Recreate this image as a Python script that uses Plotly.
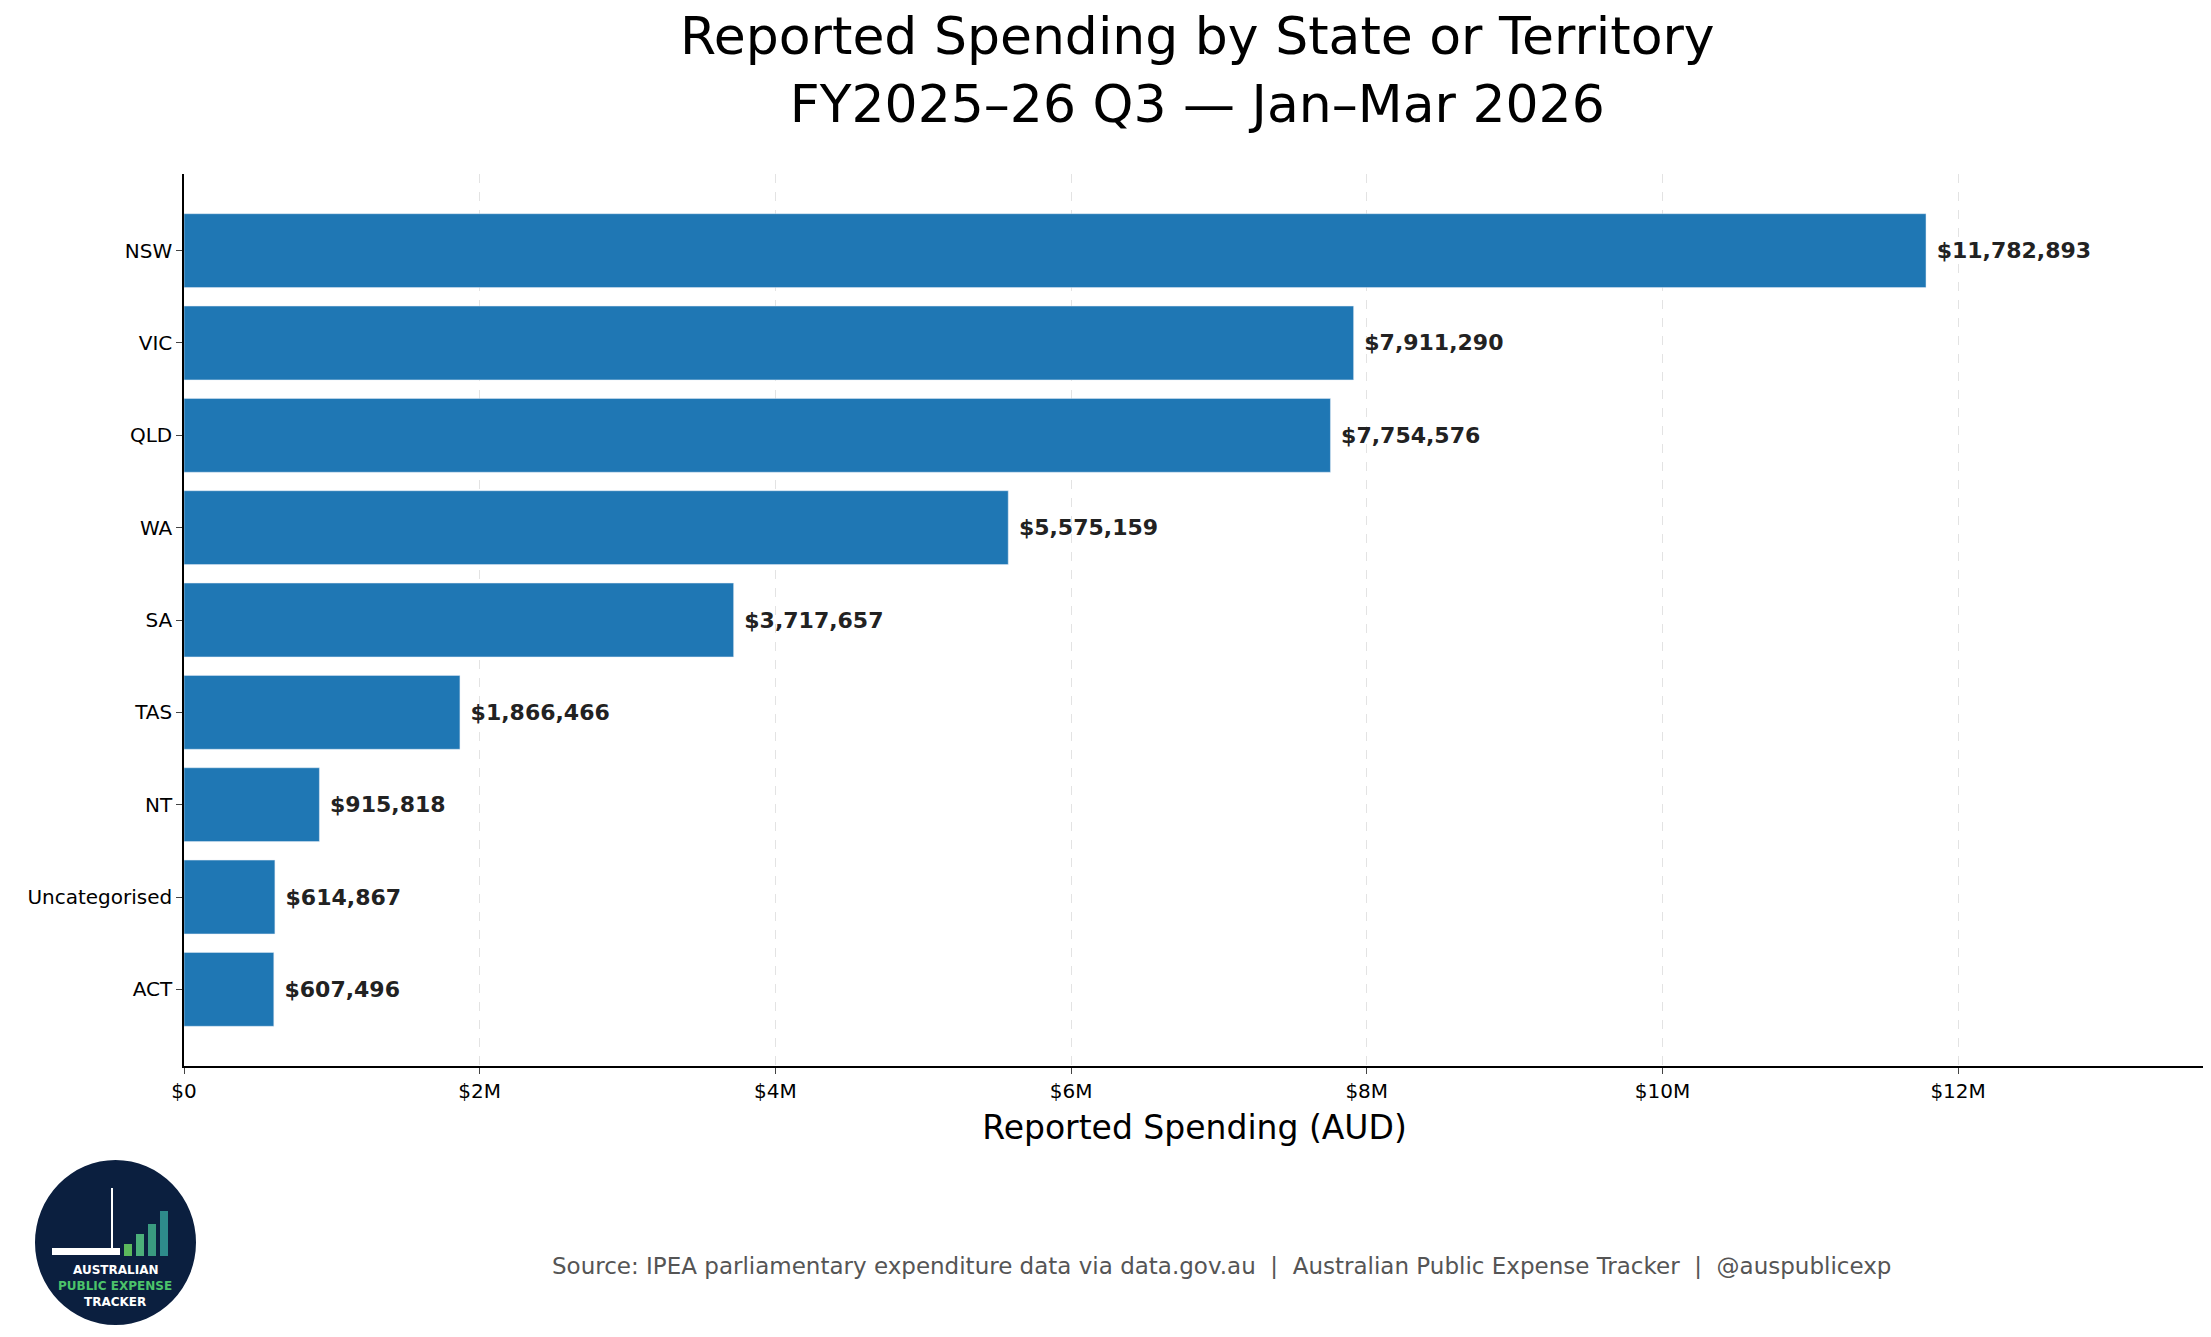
import plotly.graph_objects as go

# data
states = ["NSW", "VIC", "QLD", "WA", "SA", "TAS", "NT", "Uncategorised", "ACT"]
spend = [11782893, 7911290, 7754576, 5575159, 3717657, 1866466, 915818, 614867, 607496]
tick_vals = [0, 2e6, 4e6, 6e6, 8e6, 10e6, 12e6]
tick_text = ["$0", "$2M", "$4M", "$6M", "$8M", "$10M", "$12M"]

W, H = 2211, 1337
L, R, T, B = 176, 14, 166, 279
PW, PH = W - L - R, H - T - B

def px(x):
    return (x - L) / PW

def py(y):
    return (H - B - y) / PH

fig = go.Figure()
fig.add_trace(go.Bar(
    y=states, x=spend, orientation="h",
    marker=dict(color="#1f77b4"), width=0.8,
    text=[" $" + format(v, ",") for v in spend],
    textposition="outside", cliponaxis=False,
    textfont=dict(size=22, color="#222", family="DejaVu Sans", weight="bold"),
    showlegend=False,
))

shapes = []
annots = []
# logo: dark circle with bars
shapes.append(dict(type="circle", xref="paper", yref="paper",
                   x0=px(27), x1=px(188), y0=py(1317), y1=py(1152),
                   fillcolor="#0b1f3f", line=dict(width=0)))
for x0, top, col in [(116, 1236, "#5cb85c"), (128, 1226, "#4caf7a"),
                     (140, 1216, "#3a9a80"), (152, 1203, "#2e8b8b")]:
    shapes.append(dict(type="rect", xref="paper", yref="paper",
                       x0=px(x0), x1=px(x0 + 8), y0=py(1248), y1=py(top),
                       fillcolor=col, line=dict(width=0)))
shapes.append(dict(type="rect", xref="paper", yref="paper",
                   x0=px(44), x1=px(112), y0=py(1247), y1=py(1240),
                   fillcolor="white", line=dict(width=0)))
shapes.append(dict(type="line", xref="paper", yref="paper",
                   x0=px(104), x1=px(104), y0=py(1240), y1=py(1180),
                   line=dict(color="white", width=2)))
for tx in [("AUSTRALIAN", 1262, "white"), ("PUBLIC EXPENSE", 1278, "#4cc36a"), ("TRACKER", 1294, "white")]:
    annots.append(dict(text="<b>" + tx[0] + "</b>", xref="paper", yref="paper",
                       x=px(107), y=py(tx[1]), xanchor="center", yanchor="middle",
                       showarrow=False,
                       font=dict(size=12, color=tx[2], family="DejaVu Sans")))

annots.append(dict(text="Source: IPEA parliamentary expenditure data via data.gov.au  |  Australian Public Expense Tracker  |  @auspublicexp",
                   xref="paper", yref="paper", x=px(1213), y=py(1258),
                   xanchor="center", yanchor="middle", showarrow=False,
                   font=dict(size=23, color="#555", family="DejaVu Sans")))

annots.append(dict(text="Reported Spending by State or Territory<br>FY2025–26 Q3 — Jan–Mar 2026",
                   xref="paper", yref="paper", x=px(1189), y=py(62),
                   xanchor="center", yanchor="middle", showarrow=False,
                   font=dict(size=52, color="black", family="DejaVu Sans")))

fig.update_layout(
    width=W, height=H,
    margin=dict(l=L, r=R, t=T, b=B),
    paper_bgcolor="white", plot_bgcolor="white",
    font=dict(family="DejaVu Sans", color="black"),
    xaxis=dict(range=[0, 13.67e6], tickvals=tick_vals, ticktext=tick_text,
               tickfont=dict(size=20), ticks="outside", ticklen=6,
               showline=True, linecolor="black", linewidth=1.5,
               showgrid=True, gridcolor="#e3e3e3", griddash="dash", zeroline=False,
               title=dict(text="Reported Spending (AUD)", font=dict(size=33), standoff=14)),
    yaxis=dict(categoryorder="array", categoryarray=states, range=[8.83, -0.83],
               tickfont=dict(size=20), ticks="outside", ticklen=6,
               showline=True, linecolor="black", linewidth=1.5, showgrid=False),
    shapes=shapes, annotations=annots, bargap=0.2,
)

fig.write_html("out.html")
